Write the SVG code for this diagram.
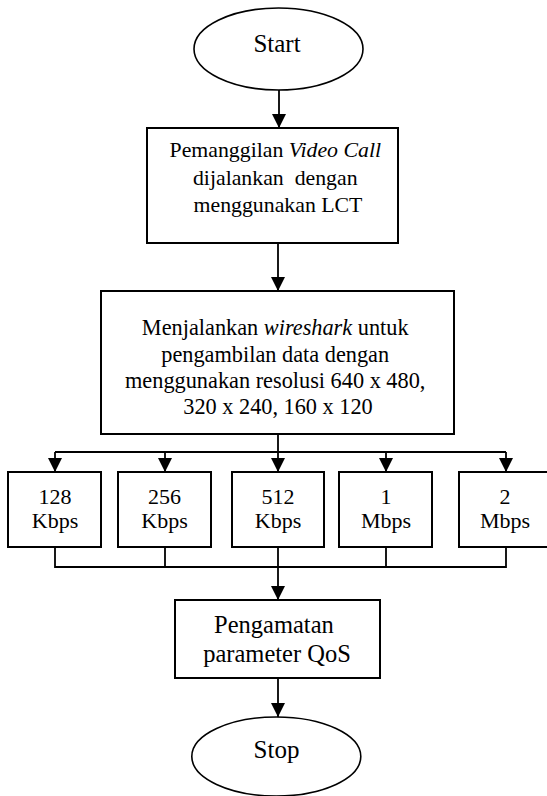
<svg xmlns="http://www.w3.org/2000/svg" width="547" height="796" viewBox="0 0 547 796">
  <style>
    .box { fill: #fff; stroke: #000; stroke-width: 2; }
    .term { fill: #fff; stroke: #000; stroke-width: 1.6; }
    .wire { fill: none; stroke: #000; stroke-width: 1.8; }
    text { font-family: 'Liberation Serif', 'DejaVu Serif', serif; fill: #000; text-anchor: middle; }
    .it { font-style: italic; }
  </style>
  <defs>
    <marker id="arrow" markerUnits="userSpaceOnUse" markerWidth="15" markerHeight="15" refX="14" refY="7" orient="auto">
      <path d="M0,0 L14,7 L0,14 z" fill="#000"/>
    </marker>
  </defs>
  <rect width="547" height="796" fill="#fff"/>

  <!-- connectors -->
  <g id="connectors">
    <line class="wire" x1="279" y1="90" x2="279" y2="128" marker-end="url(#arrow)"/>
    <line class="wire" x1="278" y1="243" x2="278" y2="291" marker-end="url(#arrow)"/>
    <!-- fan-out to the bitrate boxes -->
    <line class="wire" x1="278" y1="434" x2="278" y2="452"/>
    <line class="wire" x1="55" y1="452" x2="506" y2="452"/>
    <line class="wire" x1="55" y1="452" x2="55" y2="472" marker-end="url(#arrow)"/>
    <line class="wire" x1="165" y1="452" x2="165" y2="472" marker-end="url(#arrow)"/>
    <line class="wire" x1="278" y1="452" x2="278" y2="472" marker-end="url(#arrow)"/>
    <line class="wire" x1="386" y1="452" x2="386" y2="472" marker-end="url(#arrow)"/>
    <line class="wire" x1="506" y1="452" x2="506" y2="472" marker-end="url(#arrow)"/>
    <!-- fan-in -->
    <path class="wire" d="M55,547 V567 H506 V547 M165,547 V567 M278,547 V567 M386,547 V567"/>
    <line class="wire" x1="278" y1="567" x2="278" y2="600" marker-end="url(#arrow)"/>
    <line class="wire" x1="278" y1="678" x2="278" y2="717" marker-end="url(#arrow)"/>
  </g>

  <g id="start">
    <ellipse class="term" cx="278.5" cy="49" rx="84.5" ry="41"/>
    <text x="277" y="52" font-size="25" font-family="Liberation Serif, serif">Start</text>
  </g>

  <g id="panggilan">
    <rect class="box" x="147" y="128" width="251" height="115"/>
    <text font-size="21.8" font-family="Liberation Serif, serif">
      <tspan x="278" y="157">Pemanggilan <tspan class="it">Video Call</tspan></tspan>
      <tspan x="278" y="184.5" xml:space="preserve">dijalankan  dengan</tspan>
      <tspan x="278" y="211.5">menggunakan LCT</tspan>
    </text>
  </g>

  <g id="wireshark">
    <rect class="box" x="101" y="291" width="353" height="143"/>
    <text font-size="22.3" font-family="Liberation Serif, serif">
      <tspan x="278" y="335">Menjalankan <tspan class="it">wireshark</tspan> untuk</tspan>
      <tspan x="278" y="361.5">pengambilan data dengan</tspan>
      <tspan x="278" y="388">menggunakan resolusi 640 x 480,</tspan>
      <tspan x="278" y="414">320 x 240, 160 x 120</tspan>
    </text>
  </g>

  <g id="rate128">
    <rect class="box" x="8" y="472" width="93" height="75"/>
    <text font-size="22" font-family="Liberation Serif, serif"><tspan x="55" y="504">128</tspan><tspan x="55" y="528">Kbps</tspan></text>
  </g>
  <g id="rate256">
    <rect class="box" x="118" y="472" width="93" height="75"/>
    <text font-size="22" font-family="Liberation Serif, serif"><tspan x="164.5" y="504">256</tspan><tspan x="164.5" y="528">Kbps</tspan></text>
  </g>
  <g id="rate512">
    <rect class="box" x="232" y="472" width="92" height="75"/>
    <text font-size="22" font-family="Liberation Serif, serif"><tspan x="278" y="504">512</tspan><tspan x="278" y="528">Kbps</tspan></text>
  </g>
  <g id="rate1m">
    <rect class="box" x="339" y="472" width="93" height="75"/>
    <text font-size="22" font-family="Liberation Serif, serif"><tspan x="386" y="504">1</tspan><tspan x="386" y="528">Mbps</tspan></text>
  </g>
  <g id="rate2m">
    <rect class="box" x="459" y="472" width="94" height="75"/>
    <text font-size="22" font-family="Liberation Serif, serif"><tspan x="505" y="504">2</tspan><tspan x="505" y="528">Mbps</tspan></text>
  </g>

  <g id="pengamatan">
    <rect class="box" x="175" y="600" width="205" height="78"/>
    <text font-size="24.5" font-family="Liberation Serif, serif">
      <tspan x="277" y="633">Pengamatan</tspan>
      <tspan x="277" y="662">parameter QoS</tspan>
    </text>
  </g>

  <g id="stop">
    <ellipse class="term" cx="276.3" cy="756.5" rx="84.5" ry="39.5"/>
    <text x="276.5" y="758" font-size="25" font-family="Liberation Serif, serif">Stop</text>
  </g>
</svg>
